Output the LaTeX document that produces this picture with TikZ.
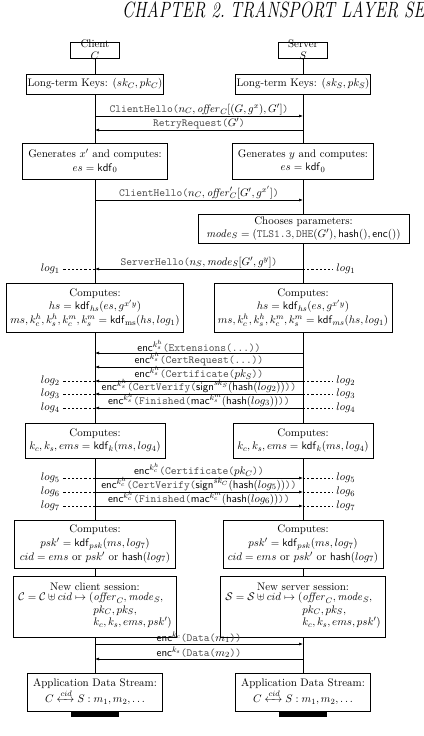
\documentclass[tikz,border=0pt]{standalone}
\usepackage{amsmath,amssymb,mathtools}
\usetikzlibrary{arrows.meta}
\newcommand\basefont{\fontsize{10.95}{13.6}\selectfont}
\tikzset{
  every node/.style={font=\basefont},
  box/.style={draw, fill=white, align=center, inner sep=1pt, line width=0.6pt},
  bx/.style 2 args={box, minimum width=#1pt, minimum height=#2pt},
  msg/.style={-{Latex[length=4pt,width=3pt]}, line width=0.6pt},
  lbl/.style={midway, above, inner sep=0.8pt},
  logline/.style={line width=0.6pt, dash pattern=on 2.2pt off 2pt},
  life/.style={line width=0.6pt},
  loglbl/.style={inner sep=3pt},
  hdr/.style={anchor=base west, inner sep=0, yscale=1.3, font=\fontsize{17}{20}\selectfont\itshape},
}
\newcommand\msgR[3]{%
  \coordinate (c#1) at (95,#2); \coordinate (s#1) at (303,#2);
  \draw[msg] (c#1) -- node[lbl]{#3} (s#1);}
\newcommand\msgL[3]{%
  \coordinate (c#1) at (95,#2); \coordinate (s#1) at (303,#2);
  \draw[msg] (s#1) -- node[lbl]{#3} (c#1);}
\newcommand\logmark[2]{%
  \draw[logline] (c#1) -- ++(-32,0) node[left,loglbl]{$log_{#2}$};
  \draw[logline] (s#1) -- ++(30,0) node[right,loglbl]{$log_{#2}$};}
\newcommand\tcall[1]{\textcolor{black!70}{\texttt{#1}}}
\begin{document}
\begin{tikzpicture}[x=1pt,y=-1pt]
\useasboundingbox (0,0) rectangle (423,736);
\clip (0,0) rectangle (423,736);
% header
\node[hdr] (hdrA) at (122,17) {CHAPTER 2.};
\node[hdr] (hdrB) at (230,17) {TRANSPORT LAYER SECURITY};

% participant heads
\node[draw, line width=0.6pt, minimum width=49pt, minimum height=16pt, inner sep=0] (topC) at (95,50) {};
\node[draw, line width=0.6pt, minimum width=49pt, minimum height=16pt, inner sep=0] (topS) at (303,50) {};
\node[align=center, inner sep=0] (topCt) at (95,50) {Client\\[-1.8pt]$C$};
\node[align=center, inner sep=0] (topSt) at (303,50) {Server\\[-1.8pt]$S$};

% client boxes
\node[bx={135}{20}] (ltkC) at (95,84) {Long-term Keys: $(sk_C, pk_C)$};
\node[bx={145}{36}] (genC) at (95,161) {Generates $x'$ and computes:\\ $es = \mathsf{kdf}_0$};
\node[bx={177}{49}] (hsC) at (95,307.5) {Computes:\\ $hs = \mathsf{kdf}_{hs}(es, g^{x'y})$\\ $ms, k^h_c, k^h_s, k^m_c, k^m_s = \mathsf{kdf}_{\mathrm{ms}}(hs, log_1)$};
\node[bx={140}{35}] (kC) at (95,440.5) {Computes:\\ $k_c, k_s, ems = \mathsf{kdf}_k(ms, log_4)$};
\node[bx={161}{48}] (pskC) at (95,544) {Computes:\\ $psk' = \mathsf{kdf}_{psk}(ms, log_7)$\\ $cid = ems$ or $psk'$ or $\mathsf{hash}(log_7)$};
\node[bx={163}{61}] (sessC) at (95,606.5) {New client session:\\[-1pt] $\begin{array}{@{}r@{}l@{}}\mathcal{C} = \mathcal{C} \uplus cid \mapsto (&\mathit{offer}_C, \mathit{mode}_S,\\[-1pt] &pk_C, pk_S,\\[-1pt] &k_c, k_s, ems, psk')\end{array}$};
\node[bx={135}{38}] (appC) at (95,692) {Application Data Stream:\\ $C \xleftrightarrow{cid} S : m_1, m_2, \ldots$};
\node[fill=black, minimum width=48pt, minimum height=5pt, inner sep=0, anchor=north] (barC) at (appC.south) {};

% server boxes
\node[bx={132}{20}] (ltkS) at (303,84) {Long-term Keys: $(sk_S, pk_S)$};
\node[bx={141}{36}] (genS) at (303,161) {Generates $y$ and computes:\\ $es = \mathsf{kdf}_0$};
\node[bx={211}{29}] (chS) at (303.5,228.5) {Chooses parameters:\\[-1pt] $\mathit{mode}_S = (\tcall{TLS1.3}, \tcall{DHE}(G'), \mathsf{hash}(), \mathsf{enc}())$};
\node[bx={178}{49}] (hsS) at (303,307.5) {Computes:\\ $hs = \mathsf{kdf}_{hs}(es, g^{x'y})$\\ $ms, k^h_c, k^h_s, k^m_c, k^m_s = \mathsf{kdf}_{ms}(hs, log_1)$};
\node[bx={140}{35}] (kS) at (303,440.5) {Computes:\\ $k_c, k_s, ems = \mathsf{kdf}_k(ms, log_4)$};
\node[bx={160}{48}] (pskS) at (303,544) {Computes:\\ $psk' = \mathsf{kdf}_{psk}(ms, log_7)$\\ $cid = ems$ or $psk'$ or $\mathsf{hash}(log_7)$};
\node[bx={165}{61}] (sessS) at (303,606.5) {New server session:\\[-1pt] $\begin{array}{@{}r@{}l@{}}\mathcal{S} = \mathcal{S} \uplus cid \mapsto (&\mathit{offer}_C, \mathit{mode}_S,\\[-1pt] &pk_C, pk_S,\\[-1pt] &k_c, k_s, ems, psk')\end{array}$};
\node[bx={135}{38}] (appS) at (303,692) {Application Data Stream:\\ $C \xleftrightarrow{cid} S : m_1, m_2, \ldots$};
\node[fill=black, minimum width=48pt, minimum height=5pt, inner sep=0, anchor=north] (barS) at (appS.south) {};

% lifelines
\draw[life] (topC.south) -- (ltkC.north);
\draw[life] (ltkC.south) -- (genC.north);
\draw[life] (genC.south) -- (hsC.north);
\draw[life] (hsC.south) -- (kC.north);
\draw[life] (kC.south) -- (pskC.north);
\draw[life] (pskC.south) -- (sessC.north);
\draw[life] (sessC.south) -- (appC.north);
\draw[life] (topS.south) -- (ltkS.north);
\draw[life] (ltkS.south) -- (genS.north);
\draw[life] (genS.south) -- (genS.south |- chS.north);
\draw[life] (genS.south |- chS.south) -- (hsS.north);
\draw[life] (hsS.south) -- (kS.north);
\draw[life] (kS.south) -- (pskS.north);
\draw[life] (pskS.south) -- (sessS.north);
\draw[life] (sessS.south) -- (appS.north);

% messages
\msgR{ch}{116}{\tcall{ClientHello(}$n_C, \mathit{offer}_C[(G, g^x), G']$\tcall{)}}
\msgL{rr}{130}{\tcall{RetryRequest(}$G'$\tcall{)}}
\msgR{chb}{200}{\tcall{ClientHello(}$n_C, \mathit{offer}'_C[G', g^{x'}]$\tcall{)}}
\msgL{sh}{269}{\tcall{ServerHello(}$n_S, \mathit{mode}_S[G', g^y]$\tcall{)}}
\logmark{sh}{1}
\msgL{ext}{353}{$\mathsf{enc}^{k^h_s}$\tcall{(Extensions(...))}}
\msgL{cr}{367}{$\mathsf{enc}^{k^h_s}$\tcall{(CertRequest(...))}}
\msgL{cert}{381}{$\mathsf{enc}^{k^h_s}$\tcall{(Certificate(}$pk_S$\tcall{))}}
\logmark{cert}{2}
\msgL{cv}{394}{$\mathsf{enc}^{k^h_s}$\tcall{(CertVerify(}$\mathsf{sign}^{sk_S}(\mathsf{hash}(log_2))$\tcall{))}}
\logmark{cv}{3}
\msgL{fin}{408}{$\mathsf{enc}^{k^h_s}$\tcall{(Finished(}$\mathsf{mac}^{k^m_s}(\mathsf{hash}(log_3))$\tcall{))}}
\logmark{fin}{4}
\msgR{certc}{478}{$\mathsf{enc}^{k^h_c}$\tcall{(Certificate(}$pk_C$\tcall{))}}
\logmark{certc}{5}
\msgR{cvc}{492}{$\mathsf{enc}^{k^h_c}$\tcall{(CertVerify(}$\mathsf{sign}^{sk_C}(\mathsf{hash}(log_5))$\tcall{))}}
\logmark{cvc}{6}
\msgR{finc}{506}{$\mathsf{enc}^{k^h_c}$\tcall{(Finished(}$\mathsf{mac}^{k^m_c}(\mathsf{hash}(log_6))$\tcall{))}}
\logmark{finc}{7}
\msgR{da}{644}{$\mathsf{enc}^{k_c}$\tcall{(Data(}$m_1$\tcall{))}}
\msgL{db}{659}{$\mathsf{enc}^{k_s}$\tcall{(Data(}$m_2$\tcall{))}}
\end{tikzpicture}
\end{document}
